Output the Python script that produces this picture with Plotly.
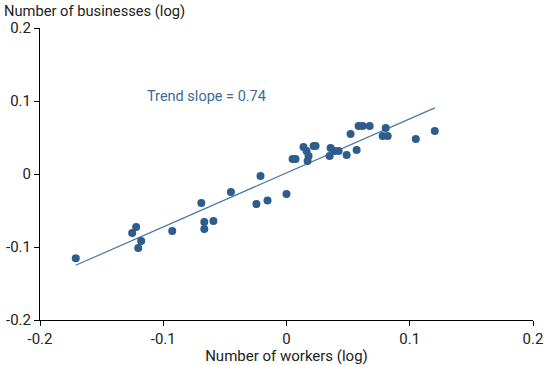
import plotly.graph_objects as go

workers = [-0.171, -0.1252, -0.1220, -0.1179, -0.1203, -0.0927, -0.0691, -0.0667, -0.0667, -0.0593,
           -0.0451, -0.0244, -0.0211, -0.0154, 0.0, 0.0049, 0.0073, 0.0138, 0.0163, 0.0179,
           0.0171, 0.0220, 0.0236, 0.0358, 0.0350, 0.0390, 0.0423, 0.0488, 0.052, 0.0569,
           0.0585, 0.0618, 0.0675, 0.0805, 0.078, 0.0821, 0.1049, 0.1203]
businesses = [-0.1155, -0.0808, -0.0726, -0.0918, -0.1014, -0.0781, -0.0397, -0.0658, -0.0753, -0.0644,
              -0.0247, -0.0411, -0.0027, -0.0363, -0.0274, 0.0205, 0.0205, 0.037, 0.0315, 0.0247,
              0.0178, 0.0384, 0.0384, 0.0356, 0.0247, 0.0315, 0.0315, 0.026, 0.0548, 0.0329,
              0.0658, 0.0658, 0.0658, 0.063, 0.052, 0.052, 0.0479, 0.0589]
trend_x = [-0.171, 0.1203]
trend_slope = 0.74
trend_intercept = 0.0015
trend_y = [trend_intercept + trend_slope * v for v in trend_x]
ticks = [-0.2, -0.1, 0, 0.1, 0.2]
tick_text = ["-0.2", "-0.1", "0", "0.1", "0.2"]

fig = go.Figure()
fig.add_trace(go.Scatter(x=trend_x, y=trend_y, mode="lines",
                         line=dict(color="#4a77a5", width=1.2), hoverinfo="skip"))
fig.add_trace(go.Scatter(x=workers, y=businesses, mode="markers",
                         marker=dict(color="#2c5d8c", size=8, line=dict(width=0))))

fig.add_annotation(x=-0.1145, y=0.106, text="Trend slope = 0.74", showarrow=False,
                   xanchor="left", yanchor="middle",
                   font=dict(family="Roboto", size=14.5, color="#3b6a9b"))
fig.add_annotation(x=0, y=1, xref="paper", yref="paper", xshift=-38, yshift=28,
                   text="Number of businesses (log)", showarrow=False,
                   xanchor="left", yanchor="top",
                   font=dict(family="Roboto", size=14.7, color="#222"))

axis_common = dict(showgrid=False, zeroline=False, showline=True, linecolor="#000",
                   linewidth=1, ticks="outside", tickcolor="#000", ticklen=5,
                   tickvals=ticks, ticktext=tick_text, range=[-0.2, 0.2],
                   automargin=False,
                   tickfont=dict(family="Roboto", size=15, color="#222"))
fig.update_xaxes(**axis_common,
                 title=dict(text="Number of workers (log)", standoff=2,
                            font=dict(family="Roboto", size=15, color="#222")))
fig.update_yaxes(**axis_common)

fig.update_layout(width=550, height=365, showlegend=False,
                  plot_bgcolor="white", paper_bgcolor="white",
                  margin=dict(l=40, r=17, t=28, b=45),
                  font=dict(family="Roboto"))
fig.write_html("out.html", config={"displayModeBar": False},
               post_script="document.body.style.margin='0';document.body.style.overflow='hidden';")
